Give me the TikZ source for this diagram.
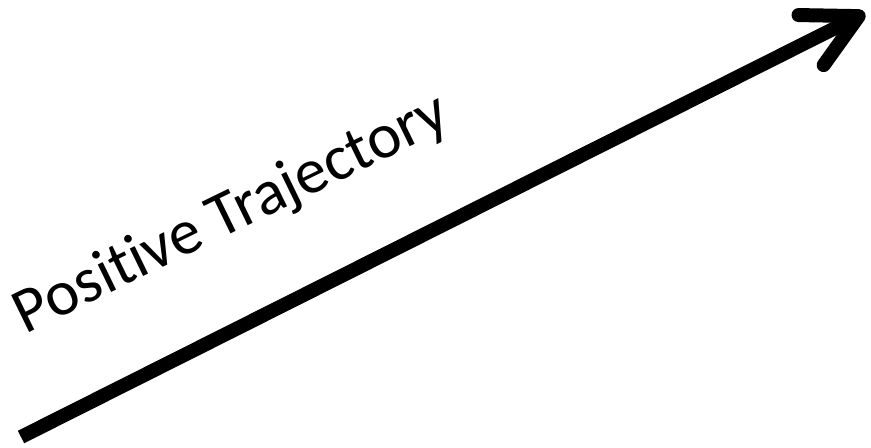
\documentclass[tikz,border=0pt]{standalone}
\usepackage{fontspec}
\setmainfont[Ligatures=NoCommon]{Carlito}
\usetikzlibrary{arrows.meta}

\begin{document}
\begin{tikzpicture}[x=0.75pt, y=-0.75pt]
  \useasboundingbox (0,0) rectangle (871,448);

  % the trajectory arrow
  \coordinate (start) at (21,437);
  \coordinate (tip) at (865,13);
  \draw[line width=10.5pt, -{Straight Barb[round, length=40pt, width=42pt]}] (start) -- (tip);

  % label along the arrow
  \node[rotate=26, font=\fontsize{48}{52}\selectfont] (label) at (232,215) {Positive Trajectory};
\end{tikzpicture}
\end{document}
